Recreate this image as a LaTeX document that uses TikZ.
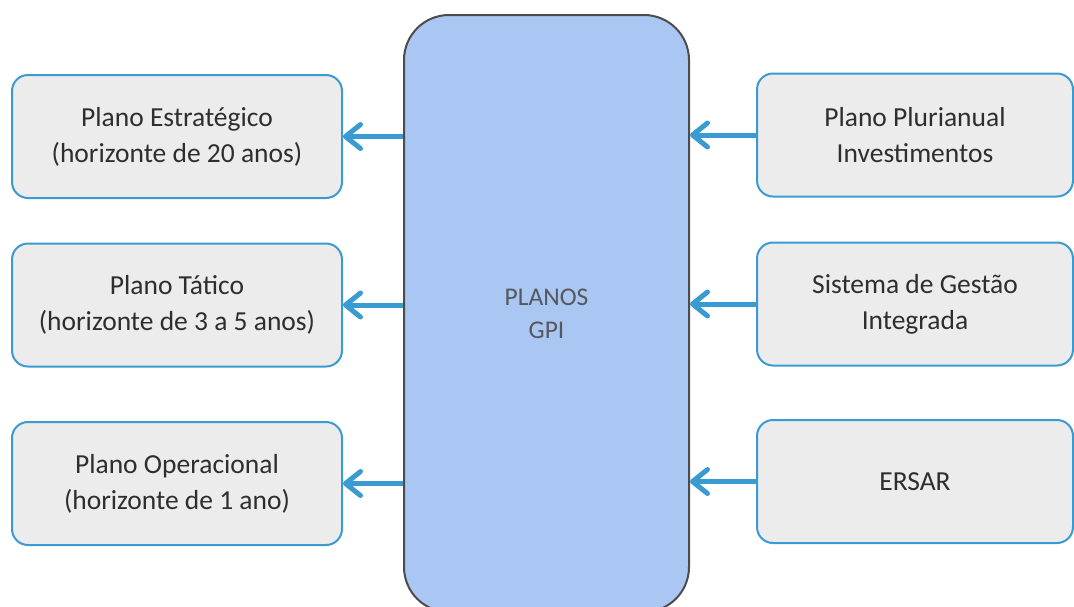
\documentclass[tikz,border=0pt]{standalone}
\usepackage{fontspec}
\setmainfont{Carlito}
\usetikzlibrary{arrows.meta}
\definecolor{gpiblue}{HTML}{A9C7F2}
\definecolor{boxgray}{HTML}{ECECEC}
\definecolor{linkblue}{HTML}{3A9AD2}
\definecolor{txtgray}{HTML}{2E2E2E}
\definecolor{gpitext}{HTML}{55585E}

\begin{document}
\begin{tikzpicture}[x=1pt,y=-1pt,
  planbox/.style={draw=linkblue, line width=2pt, fill=boxgray, rounded corners=16pt,
    minimum height=123pt, align=center, text=txtgray, inner sep=0pt,
    font=\fontsize{27.5}{36}\selectfont},
  link/.style={draw=linkblue, line width=5pt, -{Straight Barb[length=15pt,width=24pt,round]}}]
\useasboundingbox (0,0) rectangle (1074,606);

\node[draw=black!70, line width=2pt, fill=gpiblue, rounded corners=45pt, minimum width=285pt,
  minimum height=597pt, align=center, text=gpitext, font=\fontsize{25.5}{33}\selectfont]
  (gpi) at (546.5,313.5) {PLANOS\\GPI};

\node[planbox, minimum width=330pt] (estr) at (177,136.5) {Plano Estratégico\\(horizonte de 20 anos)};
\node[planbox, minimum width=330pt] (tat) at (177,305) {Plano Tático\\(horizonte de 3 a 5 anos)};
\node[planbox, minimum width=330pt] (oper) at (177,483.5) {Plano Operacional\\(horizonte de 1 ano)};

\node[planbox, minimum width=316pt] (ppi) at (915,135) {Plano Plurianual\\Investimentos};
\node[planbox, minimum width=316pt] (sgi) at (915,304) {Sistema de Gestão\\Integrada};
\node[planbox, minimum width=316pt] (ersar) at (915,481.5) {ERSAR};

\draw[link] (gpi.west |- estr.east) -- (estr.east);
\draw[link] (gpi.west |- tat.east) -- (tat.east);
\draw[link] (gpi.west |- oper.east) -- (oper.east);

\draw[link] (ppi.west) -- (gpi.east |- ppi.west);
\draw[link] (sgi.west) -- (gpi.east |- sgi.west);
\draw[link] (ersar.west) -- (gpi.east |- ersar.west);
\end{tikzpicture}
\end{document}
